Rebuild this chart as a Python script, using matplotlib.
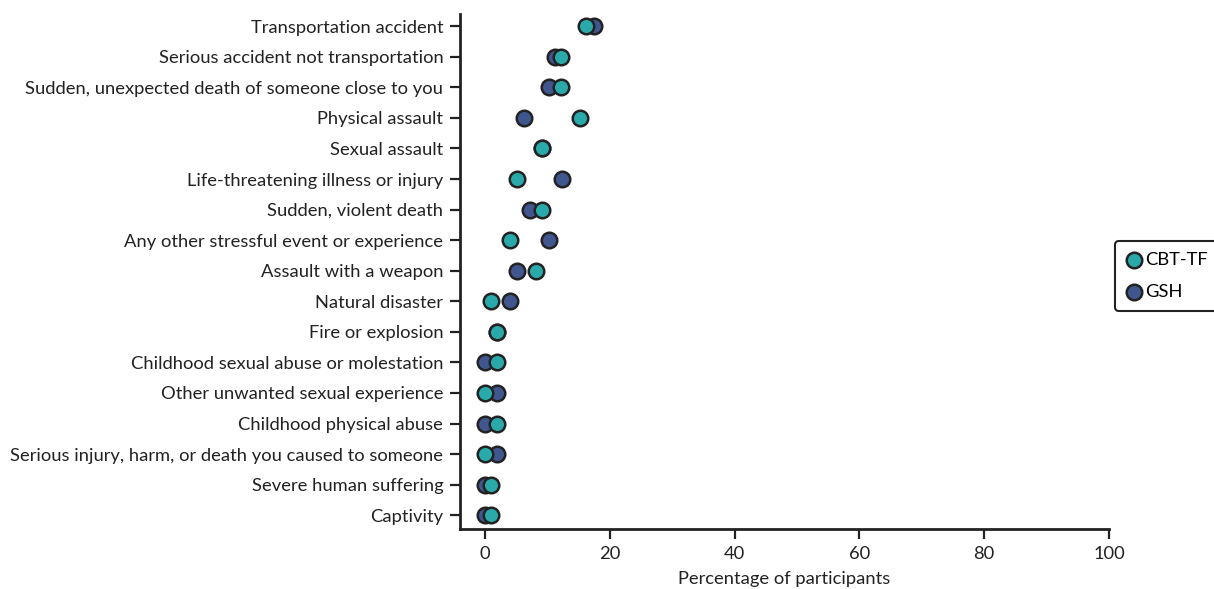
import matplotlib
matplotlib.use("Agg")
import matplotlib.pyplot as plt

plt.rcParams["font.family"] = ["Lato", "DejaVu Sans"]

categories = [
    "Transportation accident",
    "Serious accident not transportation",
    "Sudden, unexpected death of someone close to you",
    "Physical assault",
    "Sexual assault",
    "Life-threatening illness or injury",
    "Sudden, violent death",
    "Any other stressful event or experience",
    "Assault with a weapon",
    "Natural disaster",
    "Fire or explosion",
    "Childhood sexual abuse or molestation",
    "Other unwanted sexual experience",
    "Childhood physical abuse",
    "Serious injury, harm, or death you caused to someone",
    "Severe human suffering",
    "Captivity",
]
cbt_tf = [16.2, 12.2, 12.2, 15.2, 9.1, 5.1, 9.1, 4.0, 8.1, 1.0, 2.0, 2.0, 0.0, 2.0, 0.0, 1.0, 1.0]
gsh = [17.4, 11.2, 10.3, 6.2, 9.1, 12.4, 7.2, 10.3, 5.1, 4.0, 2.0, 0.0, 2.0, 0.0, 2.0, 0.0, 0.0]
xticks = [0, 20, 40, 60, 80, 100]

TEAL = "#29a9aa"
NAVY = "#40568f"
INK = "#222222"
FS = 13.2

fig = plt.figure(figsize=(12.14, 5.89), dpi=100)
ax = fig.add_axes([460 / 1214, 1 - 529 / 589, 649 / 1214, 515 / 589])

ypos = list(range(len(categories)))
ax.scatter(gsh, ypos, s=125, color=NAVY, edgecolor=INK, linewidth=1.8, zorder=3, label="GSH")
ax.scatter(cbt_tf, ypos, s=125, color=TEAL, edgecolor=INK, linewidth=1.8, zorder=4, label="CBT-TF")

ax.set_yticks(ypos)
ax.set_yticklabels(categories, fontsize=FS, color=INK)
ax.set_ylim(len(categories) - 0.55, -0.4)
ax.set_xlim(-4, 100)
ax.set_xticks(xticks)
ax.set_xticklabels([str(t) for t in xticks], fontsize=FS, color=INK)
ax.set_xlabel("Percentage of participants", fontsize=FS, color=INK, labelpad=7)

for side in ("top", "right"):
    ax.spines[side].set_visible(False)
for side in ("left", "bottom"):
    ax.spines[side].set_linewidth(2)
    ax.spines[side].set_color(INK)
ax.tick_params(axis="both", length=7, width=1.6, color=INK, pad=5)

handles, labels = ax.get_legend_handles_labels()
leg = fig.legend(handles[::-1], labels[::-1], loc="center left", bbox_to_anchor=(1115 / 1214, 1 - 276 / 589),
                 fontsize=FS, frameon=True, fancybox=True, edgecolor=INK, handletextpad=0.15,
                 borderpad=0.6, labelspacing=0.85, handlelength=0.9, borderaxespad=0, framealpha=1)
leg.get_frame().set_linewidth(1.5)

fig.savefig("out.png", dpi=100)
